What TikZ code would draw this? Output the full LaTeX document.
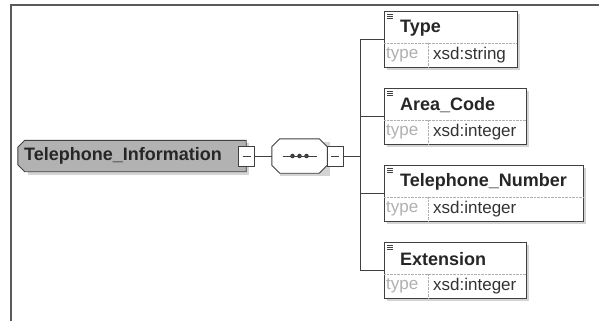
\documentclass[tikz,border=0pt]{standalone}
\usepackage{fontspec}
\setmainfont{Liberation Sans}
\usetikzlibrary{positioning,shadows}
\definecolor{xsframe}{HTML}{5A5A5A}
\definecolor{xsline}{HTML}{404040}
\definecolor{xsgrey}{HTML}{B2B2B2}
\definecolor{xsshade}{HTML}{D4D4D4}
\definecolor{xsfaint}{HTML}{B0B0B0}
\tikzset{
  elembox/.style={draw=xsline,line width=0.9pt,fill=white,inner sep=0pt},
  slot/.style={inner sep=0pt},
  minusbox/.style={draw=xsline,line width=0.8pt,fill=white,minimum width=16pt,minimum height=20pt,inner sep=0pt},
  shade/.style={drop shadow={shadow xshift=3pt,shadow yshift=-3pt,fill=xsshade,opacity=1}},
  outline/.style={draw=xsline,line width=0.9pt},
  link/.style={draw=xsline,line width=0.8pt},
  hdr/.style={font=\fontsize{18}{21}\selectfont\bfseries,text=black!85,anchor=west,inner sep=0pt},
  tyfont/.style={font=\fontsize{17}{19}\selectfont,anchor=west,inner sep=0pt},
}
\begin{document}
\begin{tikzpicture}[x=1pt,y=-1pt]
  \useasboundingbox (0,0) rectangle (599,321);
  \draw[xsframe,line width=2pt] (11,321) -- (11,5) -- (599,5);

  % root element
  \node[slot,minimum width=228pt,minimum height=31pt] (elem) at (132,156) {};
  \fill[xsshade] ([shift={(10pt,-3pt)}]elem.north west) -- ([shift={(3pt,-3pt)}]elem.north east)
    -- ([shift={(3pt,-3pt)}]elem.south east) -- ([shift={(10pt,-3pt)}]elem.south west) -- cycle;
  \filldraw[outline,fill=xsgrey] ([xshift=7pt]elem.north west) -- (elem.north east) -- (elem.south east)
    -- ([xshift=7pt]elem.south west) -- ([yshift=7pt]elem.south west)
    -- ([yshift=-7pt]elem.north west) -- cycle;
  \node[hdr] (elemlabel) at (24,156) {Telephone\_Information};
  \node[minusbox] (em) at (246.5,156) {};
  \draw[xsline] ([xshift=-4pt]em.center) -- ([xshift=4pt]em.center);

  % sequence
  \node[slot,minimum width=55pt,minimum height=34pt] (seq) at (299.5,156) {};
  \fill[xsshade] ([shift={(3pt,-3pt)}]seq.north east) -- ([shift={(3pt,-3pt)}]seq.south east)
    -- ([shift={(8pt,-3pt)}]seq.south west) -- ([shift={(8pt,-3pt)}]seq.north west) -- cycle;
  \filldraw[outline,fill=white] ([xshift=8pt]seq.north west) -- ([xshift=-8pt]seq.north east)
    -- ([yshift=-8pt]seq.north east) -- ([yshift=8pt]seq.south east)
    -- ([xshift=-8pt]seq.south east) -- ([xshift=8pt]seq.south west)
    -- ([yshift=8pt]seq.south west) -- ([yshift=-8pt]seq.north west) -- cycle;
  \draw[xsline] ([xshift=-17pt]seq.center) -- ([xshift=17pt]seq.center);
  \foreach \dx in {-7,0,7}
    \fill[xsline] ([xshift=\dx pt]seq.center) circle (2.3);
  \node[minusbox] (sm) at (335,156) {};
  \draw[xsline] ([xshift=-4pt]sm.center) -- ([xshift=4pt]sm.center);
  \coordinate (fork) at (360,156);
  \draw[link] (em) -- (seq);
  \draw[link] (sm) -- (fork);

  % child elements
  \foreach \nm/\ty/\ytop/\bw [count=\i] in {
      Type/string/11/133,
      Area\_Code/integer/88/142,
      Telephone\_Number/integer/165/199,
      Extension/integer/242/142} {
    \node[elembox,shade,minimum width=\bw pt,minimum height=56pt,anchor=north west] (c\i) at (384,\ytop) {};
    \draw[xsfaint,densely dotted] (384,\ytop+32) -- (384+\bw,\ytop+32);
    \draw[xsfaint,densely dotted] (428,\ytop+32) -- (428,\ytop+56);
    \foreach \k in {3,5,7}
      \draw[xsline,line width=0.5pt] (387,\ytop+\k) -- (393,\ytop+\k);
    \node[hdr] (h\i) at (400,\ytop+17) {\nm};
    \node[tyfont,text=xsfaint] (t\i) at (386,\ytop+44) {type};
    \node[tyfont,text=black!80] (v\i) at (433,\ytop+44) {xsd:\ty};
    \draw[link] (fork) |- (c\i.west);
  }
\end{tikzpicture}
\end{document}
